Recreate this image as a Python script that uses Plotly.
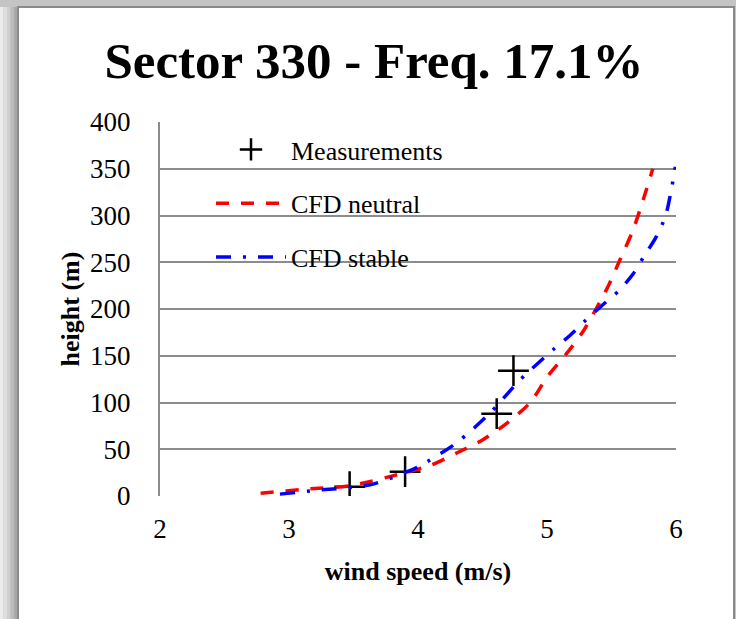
import plotly.graph_objects as go

# ---- data ----
meas_speed = [3.47, 3.90, 4.61, 4.74]
meas_height = [10, 26, 88, 134]

neutral_speed = [2.78, 3.10, 3.47, 3.90, 4.10, 4.30, 4.50, 4.69, 4.87, 5.00, 5.15,
                 5.27, 5.38, 5.48, 5.57, 5.66, 5.73, 5.82]
neutral_height = [3, 7, 11, 25, 33, 46, 60, 78, 100, 127, 152,
                  174, 200, 226, 254, 282, 310, 350]

stable_speed = [2.93, 3.20, 3.63, 3.90, 4.00, 4.30, 4.56, 4.79, 5.06, 5.18, 5.30,
                5.42, 5.56, 5.67, 5.75, 5.85, 5.92, 5.96, 5.995]
stable_height = [2, 6, 12, 25, 31, 57, 89, 124, 158, 172, 188,
                 203, 220, 238, 256, 278, 300, 325, 352]

x_ticks = [2, 3, 4, 5, 6]
y_ticks = [0, 50, 100, 150, 200, 250, 300, 350, 400]

title_text = "Sector 330 - Freq. 17.1%"
x_title = "wind speed (m/s)"
y_title = "height (m)"

# ---- layout geometry (pixels) ----
W, H = 736, 619
L, R, T, B = 160, 676, 122, 496

def px(xp):
    return (xp - L) / (R - L)

def py(yp):
    return (B - yp) / (B - T)

SERIF = "Liberation Serif, Times New Roman, serif"
GRID = "#8c8c8c"

fig = go.Figure()
fig.add_trace(go.Scatter(
    x=meas_speed, y=meas_height, mode="markers", name="Measurements",
    legendgroup="a",
    marker=dict(symbol="cross-thin", size=22, color="black",
                line=dict(color="black", width=2.5))))
fig.add_trace(go.Scatter(
    x=neutral_speed, y=neutral_height, mode="lines", name="CFD neutral",
    legendgroup="b", line=dict(color="#ff0000", width=3.5, dash="13px,12px",
                               shape="spline", smoothing=0.8)))
fig.add_trace(go.Scatter(
    x=stable_speed, y=stable_height, mode="lines", name="CFD stable",
    legendgroup="c", line=dict(color="#0000ff", width=3.5, dash="15px,12px,3px,12px",
                               shape="spline", smoothing=0.8)))

shapes = []
# outer frame with shadow
shapes.append(dict(type="rect", xref="paper", yref="paper", layer="below",
                   x0=px(0), x1=px(W + 5), y0=py(H + 5), y1=py(0),
                   fillcolor="#c4c4c4", line=dict(width=0)))
for i, c in enumerate(["#ececec", "#dedede", "#cfcfcf", "#bcbcbc", "#a8a8a8"]):
    shapes.append(dict(type="rect", xref="paper", yref="paper", layer="below",
                       x0=px(i * 3.5), x1=px(i * 3.5 + 3.5), y0=py(H + 5), y1=py(7),
                       fillcolor=c, line=dict(width=0)))
shapes.append(dict(type="rect", xref="paper", yref="paper", layer="below",
                   x0=px(18), x1=px(734), y0=py(H + 20), y1=py(7),
                   fillcolor="white", line=dict(color="#8a8a8a", width=2)))
# legend background box hiding gridlines
shapes.append(dict(type="rect", xref="paper", yref="paper", layer="between",
                   x0=px(164), x1=px(470), y0=py(285), y1=py(126),
                   fillcolor="white", line=dict(width=0)))
fig.update_layout(shapes=shapes)

fig.update_layout(
    width=W, height=H,
    margin=dict(l=L, r=W - R, t=T, b=H - B, autoexpand=False),
    paper_bgcolor="white", plot_bgcolor="rgba(0,0,0,0)",
    font=dict(family=SERIF, color="black", size=26),
    title=dict(text="<b>" + title_text + "</b>", x=(374) / W, xanchor="center",
               y=1 - 60 / H, yanchor="middle",
               font=dict(family=SERIF, size=51, color="black")),
    showlegend=True,
    legend=dict(x=px(211), xanchor="left", y=py(126), yanchor="top",
                bgcolor="rgba(0,0,0,0)", tracegroupgap=17,
                font=dict(family=SERIF, size=26, color="black"),
                itemwidth=70),
    xaxis=dict(range=[2, 6], tickvals=x_ticks, showgrid=False, zeroline=False,
               showline=False, ticks="", ticklabelstandoff=14,
               tickfont=dict(family=SERIF, size=27),
               title=dict(text="<b>" + x_title + "</b>", standoff=18,
                          font=dict(family=SERIF, size=26))),
    yaxis=dict(range=[0, 400], tickvals=y_ticks, showgrid=True, gridcolor=GRID,
               gridwidth=2, zeroline=False, showline=True, linecolor=GRID,
               linewidth=2, ticks="", ticklabelstandoff=22, automargin=True,
               tickfont=dict(family=SERIF, size=27),
               title=dict(text="<b>" + y_title + "</b>", standoff=3,
                          font=dict(family=SERIF, size=26))),
)

fig.write_html("out.html")
